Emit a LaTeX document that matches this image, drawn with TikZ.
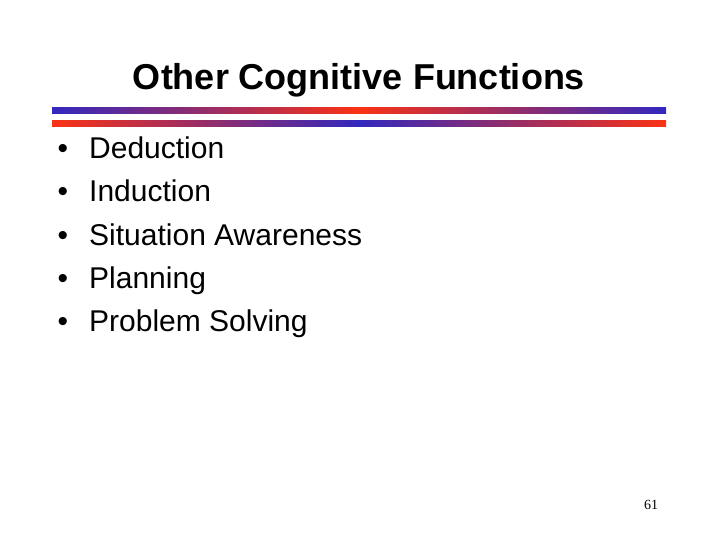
\documentclass[tikz,border=0pt]{standalone}
\usepackage{fontspec}
\setmainfont{Liberation Sans}
\newfontfamily\timesf{Liberation Serif}
\definecolor{bblue}{RGB}{50,40,190}
\definecolor{rred}{RGB}{250,50,20}
\begin{document}
\begin{tikzpicture}[x=1pt,y=-1pt,
  item/.style={anchor=base west,font=\fontsize{30}{34}\selectfont,inner sep=0pt},
  bul/.style={anchor=base,font=\fontsize{30}{34}\selectfont,inner sep=0pt}]
\useasboundingbox (0,0) rectangle (720,540);
\node[font=\bfseries\fontsize{36}{40}\selectfont,inner sep=0pt,anchor=base] (title) at (359,90) {Other Cognitive Functions};
\shade[left color=bblue,right color=bblue,middle color=rred] (52,108) rectangle (666,114);
\shade[left color=rred,right color=rred,middle color=bblue] (52,121) rectangle (666,127);
\foreach \t [count=\i] in {Deduction,Induction,Situation Awareness,Planning,Problem Solving}{
  \node[bul] (b\i) at (63,{159+43*(\i-1)}) {•};
  \node[item] (t\i) at (89,{159+43*(\i-1)}) {\t};
}
\node[font=\timesf\fontsize{14}{16}\selectfont,inner sep=0pt] (pn) at (651,505) {61};
\end{tikzpicture}
\end{document}
